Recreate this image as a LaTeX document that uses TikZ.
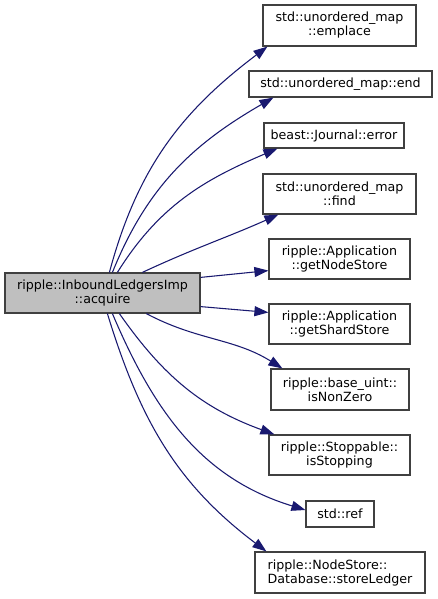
\documentclass[tikz,border=0pt]{standalone}
\usepackage{fontspec}
\setmainfont{DejaVu Sans}
\usetikzlibrary{calc,arrows.meta}
\definecolor{edgeblue}{HTML}{191970}
\definecolor{boxline}{HTML}{404040}
\definecolor{mainfill}{HTML}{BFBFBF}
\begin{document}
\begin{tikzpicture}[x=0.75pt,y=-0.75pt,
  bx/.style 2 args={draw=boxline,line width=0.9pt,fill=white,inner sep=0pt,
    minimum width=#1*0.75pt,minimum height=#2*0.75pt,align=center,
    font=\fontsize{9.5}{10.5}\selectfont},
  mainbox/.style={fill=mainfill},
  edge/.style={draw=edgeblue,line width=0.8pt,
    -{Triangle[length=10.5pt,width=7.5pt,fill=edgeblue]}}]
\fill[white] (0,0) rectangle (437,599);
\node[bx={195}{40},mainbox] (main) at (102.5,293) {ripple::InboundLedgersImp\\::acquire};
\node[bx={153}{41}] (emp) at (339.5,25.5) {std::unordered\_map\\::emplace};
\node[bx={183}{26}] (end) at (340.5,84) {std::unordered\_map::end};
\node[bx={140}{25}] (err) at (334,135.5) {beast::Journal::error};
\node[bx={153}{40}] (find) at (339.5,194) {std::unordered\_map\\::find};
\node[bx={141}{40}] (gns) at (339.5,259) {ripple::Application\\::getNodeStore};
\node[bx={141}{40}] (gss) at (339.5,324) {ripple::Application\\::getShardStore};
\node[bx={138}{41}] (inz) at (340,389.5) {ripple::base\_uint::\\isNonZero};
\node[bx={141}{40}] (ist) at (339.5,455) {ripple::Stoppable::\\isStopping};
\node[bx={68}{26}] (ref) at (340,514) {std::ref};
\node[bx={170}{41},align=left] (sl) at (340,572.5) {ripple::NodeStore::\\Database::storeLedger};
\draw[edge] ($(main.north west)+(105,0)$) to[out=75,in=217] ($(emp.south west)+(5,0)$);
\draw[edge] ($(main.north west)+(108,0)$) to[out=68,in=210] ($(end.south west)+(25,0)$);
\draw[edge] ($(main.north west)+(113,0)$) to[out=58,in=203] ($(err.south west)+(14,0)$);
\draw[edge] ($(main.north west)+(138,0)$) to[out=25,in=204] ($(find.south west)+(16,0)$);
\draw[edge] ($(main.north east)+(0,5)$) -- ($(gns.south west)+(0,-9)$);
\draw[edge] ($(main.south east)+(0,-7)$) -- ($(gss.north west)+(0,9)$);
\draw[edge] ($(main.south west)+(142,0)$) to[out=-28,in=148] ($(inz.north west)+(12,0)$);
\draw[edge] ($(main.south west)+(115,0)$) to[out=-55,in=160] ($(ist.north west)+(6,0)$);
\draw[edge] ($(main.south west)+(108,0)$) to[out=-67,in=163] ($(ref.west)+(0,-4)$);
\draw[edge] ($(main.south west)+(103,0)$) to[out=-73,in=143] ($(sl.north west)+(12,0)$);
\end{tikzpicture}
\end{document}
